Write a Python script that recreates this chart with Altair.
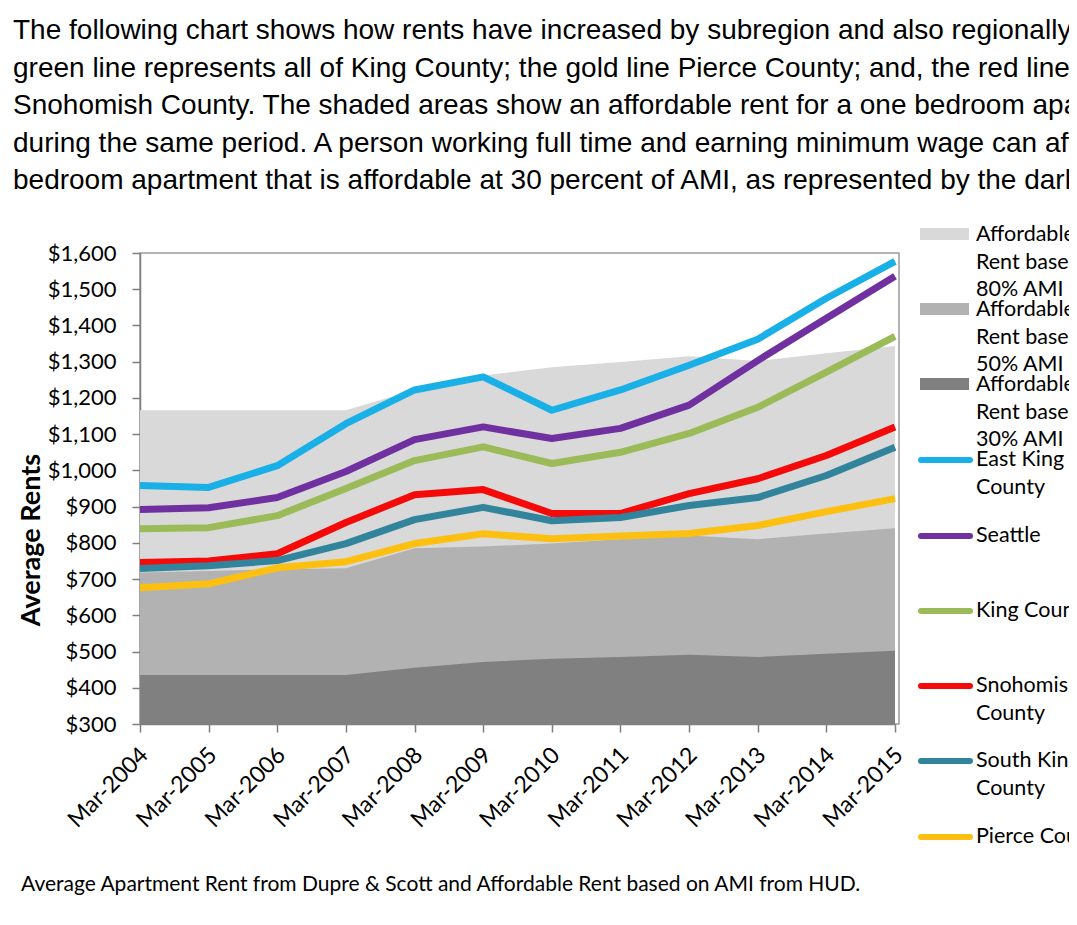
import altair as alt
import pandas as pd

# ---------------- data ----------------
years = ["Mar-2004", "Mar-2005", "Mar-2006", "Mar-2007", "Mar-2008", "Mar-2009",
         "Mar-2010", "Mar-2011", "Mar-2012", "Mar-2013", "Mar-2014", "Mar-2015"]

east_king = [958, 953, 1013, 1129, 1222, 1258, 1166, 1222, 1290, 1362, 1475, 1577]
seattle = [892, 897, 925, 997, 1085, 1120, 1088, 1116, 1180, 1303, 1420, 1536]
king_county = [839, 842, 875, 950, 1027, 1065, 1019, 1050, 1102, 1174, 1271, 1370]
snohomish = [746, 750, 770, 856, 933, 947, 881, 881, 936, 977, 1041, 1120]
south_king = [729, 737, 751, 798, 864, 898, 861, 870, 903, 925, 986, 1064]
pierce = [676, 687, 731, 748, 798, 825, 811, 819, 826, 848, 886, 922]

ami80 = [1166, 1166, 1166, 1166, 1222, 1262, 1285, 1299, 1315, 1302, 1323, 1343]
ami50 = [718, 722, 727, 730, 785, 790, 798, 810, 820, 810, 826, 840]
ami30 = [435, 435, 435, 435, 455, 471, 480, 485, 491, 485, 494, 502]

series_names = ["East King County", "Seattle", "King County",
                "Snohomish County", "South King County", "Pierce County"]
series_values = [east_king, seattle, king_county, snohomish, south_king, pierce]
series_colors = ["#19B0E8", "#7030A0", "#9BBB59", "#F50A0A", "#31849B", "#FDC010"]

area_names = ["80% AMI", "50% AMI", "30% AMI"]
area_values = [ami80, ami50, ami30]
area_colors = ["#D9D9D9", "#B2B2B2", "#808080"]

y_ticks = [300, 400, 500, 600, 700, 800, 900, 1000, 1100, 1200, 1300, 1400, 1500, 1600]

intro_lines = [
    "The following chart shows how rents have increased by subregion and also regionally. The",
    "green line represents all of King County; the gold line Pierce County; and, the red line",
    "Snohomish County. The shaded areas show an affordable rent for a one bedroom apartment",
    "during the same period. A person working full time and earning minimum wage can afford",
    "bedroom apartment that is affordable at 30 percent of AMI, as represented by the darkest",
]
caption = "Average  Apartment Rent from Dupre & Scott and Affordable Rent based on AMI from HUD."
y_title = "Average Rents"

legend_area_labels = [["Affordable", "Rent based on", "80% AMI"],
                      ["Affordable", "Rent based on", "50% AMI"],
                      ["Affordable", "Rent based on", "30% AMI"]]
legend_line_labels = [["East King", "County"], ["Seattle"], ["King County"],
                      ["Snohomish", "County"], ["South King", "County"], ["Pierce County"]]

# ---------------- tables ----------------
lines_df = pd.DataFrame([
    {"series": n, "year": y, "value": v}
    for n, vals in zip(series_names, series_values)
    for y, v in zip(years, vals)
])

W, H = 759, 471
FONT = "Lato"

x_enc = alt.X("year:N", sort=years,
              scale=alt.Scale(type="point", padding=0, range=[0, 755]),
              axis=alt.Axis(title=None, labelAngle=315, labelAlign="right",
                            labelBaseline="middle", labelPadding=19, labelOffset=4,
                            tickSize=8, labelFont=FONT, labelFontSize=23,
                            labelColor="#000000",
                            domainColor="#7f7f7f", tickColor="#7f7f7f",
                            domainWidth=1.5, tickWidth=1.5))
y_enc = alt.Y("value:Q",
              scale=alt.Scale(domain=[300, 1600], nice=False, zero=False),
              axis=alt.Axis(title=None, values=y_ticks, format="$,.0f", grid=False,
                            tickSize=8, labelPadding=16, labelFont=FONT,
                            labelFontSize=22, labelColor="#000000",
                            domainColor="#7f7f7f", tickColor="#7f7f7f",
                            domainWidth=1.5, tickWidth=1.5))

layers = []
for name, vals, col in zip(area_names, area_values, area_colors):
    df = pd.DataFrame({"year": years, "value": vals})
    layers.append(
        alt.Chart(df).mark_area(color=col, opacity=1, interpolate="linear")
        .encode(x=x_enc, y=y_enc, y2=alt.datum(300))
    )

layers.append(
    alt.Chart(lines_df).mark_line(strokeWidth=7, strokeJoin="round", strokeCap="butt")
    .encode(x=x_enc, y=y_enc,
            color=alt.Color("series:N",
                            scale=alt.Scale(domain=series_names, range=series_colors),
                            legend=None),
            detail="series:N")
)

one = pd.DataFrame({"k": [0]})


def txt(text, x, y, size, font=FONT, align="left", baseline="middle",
        weight="normal", angle=0, line_height=None, color="#000000"):
    kw = dict(font=font, fontSize=size, align=align, baseline=baseline,
              fontWeight=weight, color=color)
    if angle:
        kw["angle"] = angle
    if line_height:
        kw["lineHeight"] = line_height
    return alt.Chart(one).mark_text(**kw).encode(
        x=alt.value(x), y=alt.value(y), text=alt.value(text))


# plot origin sits at page (140, 253)
OX, OY = 140, 253
layers.append(txt(intro_lines, 13 - OX, 39 - OY, 28, font="Liberation Sans",
                  baseline="alphabetic", line_height=37.5))
layers.append(txt(y_title, 32 - OX, 540 - OY, 27, weight="bold", align="center", angle=270))
layers.append(txt(caption, 21 - OX, 891 - OY, 21, baseline="alphabetic"))

# legend: area swatches
box_tops = [228, 303, 378]
area_first_line = [235, 310, 385]
for lab, top, cy, col in zip(legend_area_labels, box_tops, area_first_line, area_colors):
    layers.append(
        alt.Chart(one).mark_rect(color=col).encode(
            x=alt.value(920 - OX), x2=alt.value(969 - OX),
            y=alt.value(top - OY), y2=alt.value(top - OY + 12))
    )
    layers.append(txt(lab, 976 - OX, cy - OY, 21.5, line_height=27.5))

# legend: line swatches
line_ys = [460, 536, 611, 686, 761, 837]
for lab, ly, col in zip(legend_line_labels, line_ys, series_colors):
    layers.append(
        alt.Chart(one).mark_rule(color=col, strokeWidth=6, strokeCap="round").encode(
            x=alt.value(921 - OX), x2=alt.value(970 - OX), y=alt.value(ly - OY))
    )
    layers.append(txt(lab, 976 - OX, ly - OY, 21.5, line_height=27.5))

chart = alt.layer(*layers).properties(
    width=W, height=H,
    autosize=alt.AutoSizeParams(type="none"),
    padding={"left": OX - 8, "top": OY - 8, "right": 1061 - (OX - 8) - W,
             "bottom": 903 - (OY - 8) - H},
    background="white",
).configure_view(
    stroke="#9a9a9a", strokeWidth=1.5
)

chart.save("out.html", embed_options={"renderer": "svg", "actions": False})
